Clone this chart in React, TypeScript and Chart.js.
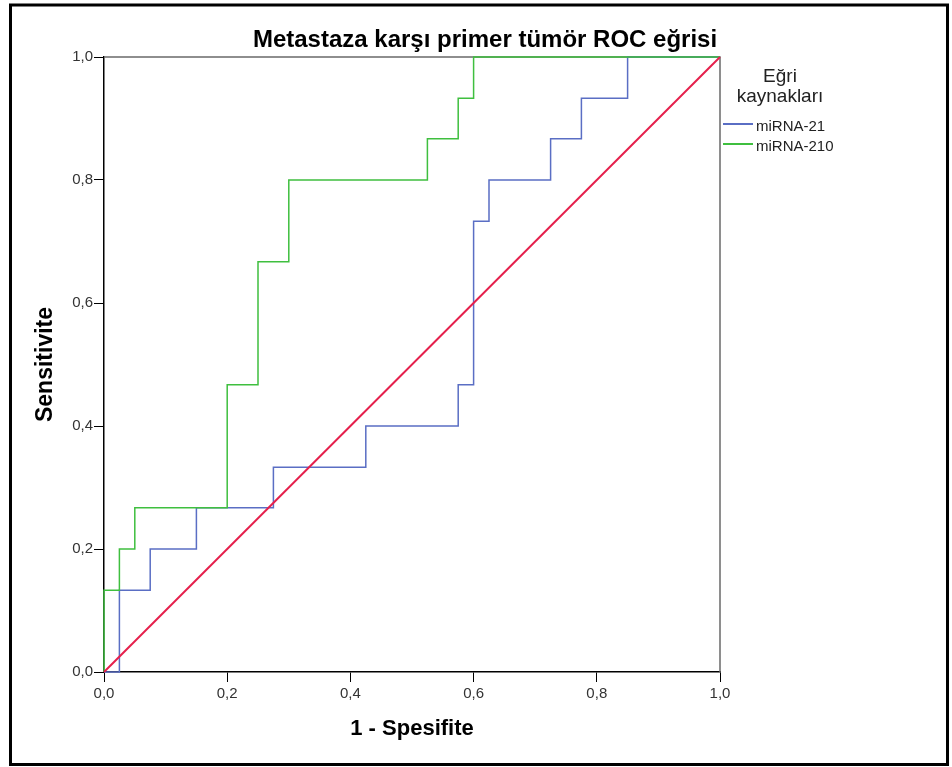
import { useEffect, useRef } from 'react';
import { Chart, registerables } from 'chart.js';

Chart.register(...registerables);

// ROC points (1 - Spesifite, Sensitivite), drawn as steps
const miRNA21Fpr = [0, 0.025, 0.075, 0.15, 0.275, 0.425, 0.575, 0.6, 0.625, 0.725, 0.775, 0.85, 1.0];
const miRNA21Tpr = [0, 0.133, 0.2, 0.267, 0.333, 0.4, 0.467, 0.733, 0.8, 0.867, 0.933, 1.0, 1.0];
const miRNA210Fpr = [0, 0, 0.025, 0.05, 0.2, 0.25, 0.3, 0.525, 0.575, 0.6, 1.0];
const miRNA210Tpr = [0, 0.133, 0.2, 0.267, 0.467, 0.667, 0.8, 0.867, 0.933, 1.0, 1.0];
const referenceLine = [0, 1];

const tickValues = [0, 0.2, 0.4, 0.6, 0.8, 1.0];
const seriesNames = ['miRNA-21', 'miRNA-210'];
const seriesColors = ['#5a6ec4', '#3fbf3f'];
const referenceColor = '#e5204c';
const chartTitle = 'Metastaza karşı primer tümör ROC eğrisi';
const legendTitle = ['Eğri', 'kaynakları'];
const xTitle = '1 - Spesifite';
const yTitle = 'Sensitivite';

const FONT = '"Liberation Sans", Arial, sans-serif';

const fmt = (v: number) => v.toFixed(1).replace('.', ',');

const decorPlugin = {
  id: 'decor',
  beforeDatasetsDraw(chart: any) {
    const { ctx, chartArea } = chart;
    ctx.save();
    ctx.strokeStyle = '#6a6a6a';
    ctx.lineWidth = 1.5;
    ctx.beginPath();
    ctx.moveTo(chartArea.left, chartArea.top);
    ctx.lineTo(chartArea.right, chartArea.top);
    ctx.lineTo(chartArea.right, chartArea.bottom);
    ctx.stroke();
    ctx.restore();
  },
  afterDraw(chart: any) {
    const { ctx } = chart;
    ctx.save();
    // outer frame
    ctx.strokeStyle = '#000';
    ctx.lineWidth = 3;
    ctx.strokeRect(10.5, 5, 937, 759.5);
    // title
    ctx.fillStyle = '#000';
    ctx.font = `bold 24px ${FONT}`;
    ctx.textAlign = 'center';
    ctx.textBaseline = 'alphabetic';
    ctx.fillText(chartTitle, 485, 47);
    // legend title
    ctx.fillStyle = '#222';
    ctx.font = `19px ${FONT}`;
    ctx.fillText(legendTitle[0], 780, 82);
    ctx.fillText(legendTitle[1], 780, 102);
    // legend items
    ctx.textAlign = 'left';
    ctx.font = `15px ${FONT}`;
    const ys = [124, 144];
    seriesNames.forEach((name, i) => {
      ctx.strokeStyle = seriesColors[i];
      ctx.lineWidth = 2;
      ctx.beginPath();
      ctx.moveTo(723, ys[i]);
      ctx.lineTo(753, ys[i]);
      ctx.stroke();
      ctx.fillStyle = '#222';
      ctx.fillText(name, 756, ys[i] + 7);
    });
    ctx.restore();
  },
};

export default function App() {
  const ref = useRef<HTMLCanvasElement | null>(null);
  useEffect(() => {
    if (!ref.current) return;
    const toPts = (xs: number[], ys: number[]) => xs.map((x, i) => ({ x, y: ys[i] }));
    const chart = new Chart(ref.current, {
      type: 'scatter',
      data: {
        datasets: [
          {
            label: 'Referans',
            data: toPts(referenceLine, referenceLine),
            showLine: true,
            borderColor: referenceColor,
            borderWidth: 2,
            pointRadius: 0,
            order: 0,
            clip: 6,
          } as any,
          {
            label: seriesNames[0],
            data: toPts(miRNA21Fpr, miRNA21Tpr),
            showLine: true,
            stepped: 'before',
            borderColor: seriesColors[0],
            borderWidth: 1.5,
            pointRadius: 0,
            order: 2,
            clip: 6,
          },
          {
            label: seriesNames[1],
            data: toPts(miRNA210Fpr, miRNA210Tpr),
            showLine: true,
            stepped: 'before',
            borderColor: seriesColors[1],
            borderWidth: 1.5,
            pointRadius: 0,
            order: 1,
            clip: 6,
          },
        ],
      },
      options: {
        animation: false,
        responsive: false,
        devicePixelRatio: 1,
        layout: { padding: { top: 57, right: 232, bottom: 0, left: 0 } },
        plugins: { legend: { display: false }, tooltip: { enabled: false }, title: { display: false } },
        scales: {
          x: {
            type: 'linear',
            min: 0,
            max: 1,
            afterBuildTicks: (s: any) => {
              s.ticks = tickValues.map((v) => ({ value: v }));
            },
            afterFit: (s: any) => {
              s.height = 95;
            },
            ticks: {
              callback: (v: any) => fmt(Number(v)),
              color: '#333',
              font: { family: FONT, size: 15 },
              padding: 3,
              maxRotation: 0,
            },
            grid: { drawOnChartArea: false, drawTicks: true, tickLength: 10, color: '#000' },
            border: { color: '#000', width: 1.5 },
            title: {
              display: true,
              text: xTitle,
              color: '#000',
              font: { family: FONT, size: 22, weight: 'bold' },
              padding: { top: 0, bottom: 24.8 },
            },
          },
          y: {
            type: 'linear',
            min: 0,
            max: 1,
            afterBuildTicks: (s: any) => {
              s.ticks = tickValues.map((v) => ({ value: v }));
            },
            afterFit: (s: any) => {
              s.width = 104;
            },
            ticks: {
              callback: (v: any) => fmt(Number(v)),
              color: '#333',
              font: { family: FONT, size: 15 },
              padding: 1,
            },
            grid: { drawOnChartArea: false, drawTicks: true, tickLength: 10, color: '#000' },
            border: { color: '#000', width: 1.5 },
            title: {
              display: true,
              text: yTitle,
              color: '#000',
              font: { family: FONT, size: 23, weight: 'bold' },
              padding: { top: 32.2, bottom: 0 },
            },
          },
        },
      },
      plugins: [decorPlugin],
    } as any);
    return () => chart.destroy();
  }, []);
  return (
    <div style={{ position: 'absolute', left: 0, top: 0, width: 952, height: 767, background: '#fff' }}>
      <canvas ref={ref} width={952} height={767} style={{ display: 'block', width: 952, height: 767 }} />
    </div>
  );
}
